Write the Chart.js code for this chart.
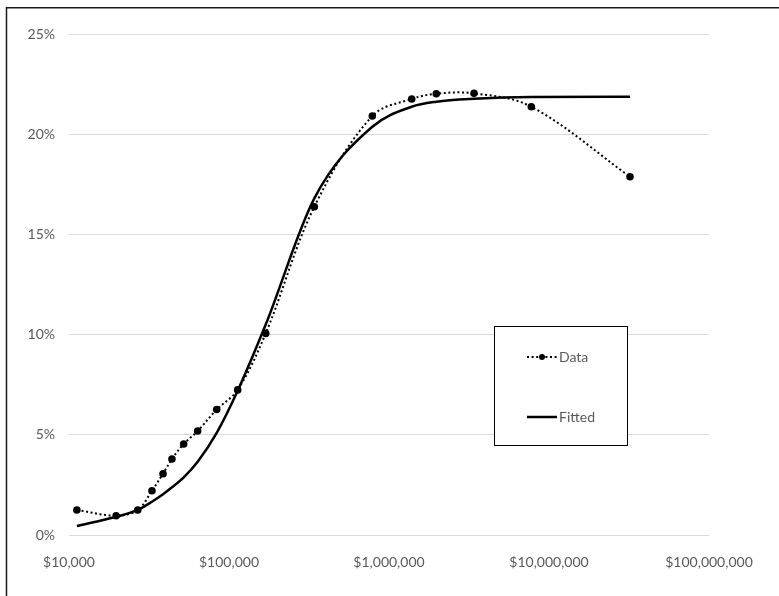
<!DOCTYPE html>
<html>
<head>
<meta charset="utf-8">
<script src="https://cdn.jsdelivr.net/npm/chart.js@4/dist/chart.umd.min.js"></script>
<style>
  html, body { margin: 0; padding: 0; background: #ffffff; }
  canvas { display: block; }
</style>
</head>
<body>
<canvas id="chart" width="779" height="596"></canvas>
<script>
// Income levels (USD) at which the rate was observed
const incomes = [11200, 19700, 26900, 33000, 38700, 44000, 52100, 63700, 83800,
                 113300, 169600, 341400, 786500, 1386800, 1975000, 3398000, 7752000, 32080000];
// Observed rate (%)
const dataPct = [1.25, 0.96, 1.25, 2.21, 3.06, 3.79, 4.54, 5.19, 6.26,
                 7.24, 10.06, 16.38, 20.91, 21.76, 22.02, 22.04, 21.37, 17.88];
// Fitted curve (%)
const fittedPct = [0.45, 0.91, 1.25, 1.66, 2.03, 2.38, 2.88, 3.66, 5.1,
                   7.2, 10.5, 16.8, 20.37, 21.37, 21.62, 21.77, 21.86, 21.87];
// Axis ticks
const xTicks = [10000, 100000, 1000000, 10000000, 100000000];
const yTicks = [0, 5, 10, 15, 20, 25];
const seriesNames = ['Data', 'Fitted'];

const FONT = { family: 'Lato, "Liberation Sans", sans-serif', size: 14 };
const TEXT_GRAY = '#595959';

const toPoints = (ys) => incomes.map((x, i) => ({ x: x, y: ys[i] }));

// Frame around the whole figure and the boxed legend
const decorPlugin = {
  id: 'decor',
  afterDraw(chart) {
    const ctx = chart.ctx;
    ctx.save();
    // outer frame
    ctx.strokeStyle = '#1a1a1a';
    ctx.lineWidth = 1.5;
    ctx.setLineDash([]);
    ctx.strokeRect(6.5, 7.75, 800, 620);

    // legend box
    const bx = 494.5, by = 326.5, bw = 133, bh = 119;
    ctx.fillStyle = '#ffffff';
    ctx.fillRect(bx, by, bw, bh);
    ctx.strokeStyle = '#000000';
    ctx.lineWidth = 1;
    ctx.strokeRect(bx, by, bw, bh);

    const ds = chart.data.datasets;
    const rows = [357, 417];
    ds.forEach((d, i) => {
      const y = rows[i];
      ctx.strokeStyle = d.borderColor;
      ctx.lineWidth = d.borderWidth;
      ctx.setLineDash(d.borderDash || []);
      ctx.beginPath();
      ctx.moveTo(527, y);
      ctx.lineTo(557, y);
      ctx.stroke();
      ctx.setLineDash([]);
      if (d.pointRadius > 0) {
        ctx.fillStyle = d.pointBackgroundColor;
        ctx.beginPath();
        ctx.arc(542, y, 3, 0, Math.PI * 2);
        ctx.fill();
      }
      ctx.fillStyle = TEXT_GRAY;
      ctx.font = FONT.size + 'px ' + FONT.family;
      ctx.textAlign = 'left';
      ctx.textBaseline = 'middle';
      ctx.fillText(d.label, 559, y + 0.5);
    });
    ctx.restore();
  }
};

new Chart(document.getElementById('chart'), {
  type: 'line',
  data: {
    datasets: [
      {
        label: seriesNames[0],
        data: toPoints(dataPct),
        borderColor: '#000000',
        borderWidth: 2,
        borderDash: [2, 2.6],
        pointRadius: 3.8,
        pointBackgroundColor: '#000000',
        pointBorderWidth: 0,
        tension: 0.35,
        fill: false
      },
      {
        label: seriesNames[1],
        data: toPoints(fittedPct),
        borderColor: '#000000',
        borderWidth: 2.5,
        pointRadius: 0,
        pointBackgroundColor: '#000000',
        cubicInterpolationMode: 'monotone',
        fill: false
      }
    ]
  },
  options: {
    responsive: false,
    animation: false,
    devicePixelRatio: 1,
    layout: { padding: { left: 0, right: 70, top: 34, bottom: 0 } },
    plugins: {
      legend: { display: false },
      tooltip: { enabled: false }
    },
    scales: {
      x: {
        type: 'logarithmic',
        min: xTicks[0],
        max: xTicks[xTicks.length - 1],
        afterBuildTicks(scale) {
          scale.ticks = xTicks.map(v => ({ value: v }));
        },
        afterFit(scale) { scale.height = 61; },
        grid: { display: false, drawTicks: false },
        border: { display: false },
        ticks: {
          color: TEXT_GRAY,
          font: FONT,
          padding: 19,
          maxRotation: 0,
          autoSkip: false,
          callback: (v) => '$' + Number(v).toLocaleString('en-US')
        }
      },
      y: {
        min: yTicks[0],
        max: yTicks[yTicks.length - 1],
        afterBuildTicks(scale) {
          scale.ticks = yTicks.map(v => ({ value: v }));
        },
        afterFit(scale) { scale.width = 69; },
        grid: { color: '#d9d9d9', lineWidth: 1, drawTicks: false },
        border: { display: false },
        ticks: {
          color: TEXT_GRAY,
          font: FONT,
          padding: 14,
          callback: (v) => v + '%'
        }
      }
    }
  },
  plugins: [decorPlugin]
});
</script>
</body>
</html>
